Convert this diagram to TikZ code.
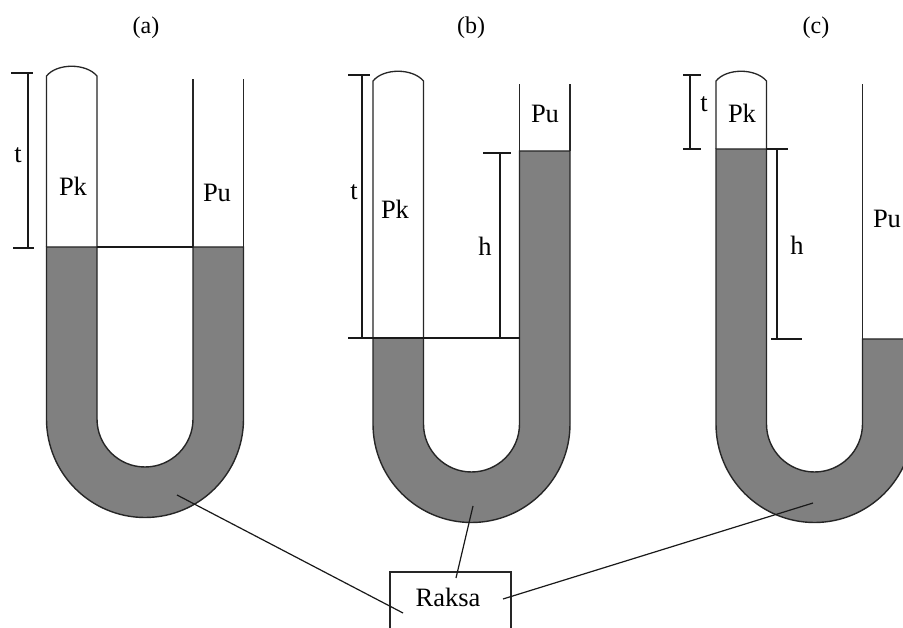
\documentclass[tikz,border=0pt]{standalone}
\usepackage{fontspec}
\setmainfont{Liberation Serif}
\usetikzlibrary{positioning}
\tikzstyle{mercury}=[draw=black!85,fill=black!50,line width=1.4pt,line join=miter]
\tikzstyle{glass} = [draw=black!85,line width=1.3pt]
\tikzstyle{undirectededge} = [draw=black!90,line width=1.2pt]
\tikzstyle{weight} = [font=\fontsize{24}{26}\selectfont,inner sep=0pt]
\tikzstyle{bigweight} = [font=\fontsize{26.5}{28}\selectfont,inner sep=0pt]
\tikzstyle{boxvertex}=[draw=black!85,line width=1.3pt,minimum width=121pt,minimum height=100pt,inner sep=0pt]

\begin{document}
\begin{tikzpicture}[x=1pt,y=-1pt]
    \clip (0,0) rectangle (903,628);
    \fill[white] (0,0) rectangle (903,628);

    % First we draw the three tubes
    \foreach \cx/\cy/\lvl/\rvl/\tp in {145/419/247/247/76, 471.5/424/338/151/81, 814.5/424/149/339/81}
    {
        \path[mercury] (\cx-98.5,\lvl) -- (\cx-98.5,\cy) arc (180:0:98.5) -- (\cx+98.5,\rvl) -- (\cx+48,\rvl)
            -- (\cx+48,\cy) arc (0:180:48) -- (\cx-48,\lvl) -- cycle;
        \path[glass] (\cx-98.5,\lvl) -- (\cx-98.5,\tp) .. controls (\cx-88,\tp-13) and (\cx-59,\tp-13) .. (\cx-48,\tp) -- (\cx-48,\lvl);
        \path[glass] (\cx+48,\rvl) -- (\cx+48,\tp+3);
        \path[glass] (\cx+98.5,\rvl) -- (\cx+98.5,\tp+3);
    }

    % Then the end points of the measuring lines and of the pointers
    \foreach \pos/\name in {{(11,73)/ta1}, {(33,73)/ta2}, {(28,73)/ta3}, {(13,248)/ta4}, {(34,248)/ta5}, {(28,248)/ta6}, {(97,247)/la1}, {(193,247)/la2},
        {(348,75)/tb1}, {(370,75)/tb2}, {(362,75)/tb3}, {(348,338)/tb4}, {(520,338)/tb5}, {(362,338)/tb6},
        {(483,153)/hb1}, {(511,153)/hb2}, {(500,153)/hb3}, {(500,338)/hb4},
        {(683,75)/tc1}, {(701,75)/tc2}, {(690,75)/tc3}, {(683,149)/tc4}, {(701,149)/tc5}, {(690,149)/tc6},
        {(766,149)/hc1}, {(788,149)/hc2}, {(777,149)/hc3}, {(771,339)/hc4}, {(802,339)/hc5}, {(777,339)/hc6},
        {(177,495)/pa1}, {(403,613)/pa2}, {(473,506)/pb1}, {(456,578)/pb2}, {(813,503)/pc1}, {(503,599)/pc2}}
        \path \pos coordinate (\name);

    % The box, with the text set apart from it
    \node[boxvertex] (box) at (450.5,622) {};
    \node[bigweight] (raksa) at (448,597) {Raksa};

    % Connect the end points
    \foreach \source/ \dest in {ta1/ta2, ta3/ta6, ta4/ta5, la1/la2, tb1/tb2, tb3/tb6, tb4/tb5, hb1/hb2, hb3/hb4,
        tc1/tc2, tc3/tc6, tc4/tc5, hc1/hc2, hc3/hc6, hc4/hc5, pa1/pa2, pb1/pb2, pc1/pc2}
        \path[undirectededge] (\source) -- (\dest);

    % Labels
    \foreach \pos/\name/\label in {{(146,28)/capa/(a)}, {(471,28)/capb/(b)}, {(816,28)/capc/(c)}}
        \node[weight] (\name) at \pos {\label};
    \foreach \pos/\name/\label in {{(18,155)/ta/t}, {(73,186)/pka/Pk}, {(217,193)/pua/Pu},
        {(354,192)/tb/t}, {(395,209)/pkb/Pk}, {(545,114)/pub/Pu}, {(485,246)/hb/h},
        {(704,104)/tc/t}, {(742,113)/pkc/Pk}, {(887,219)/puc/Pu}, {(797,245)/hc/h}}
        \node[bigweight] (\name) at \pos {\label};

\end{tikzpicture}
\end{document}
